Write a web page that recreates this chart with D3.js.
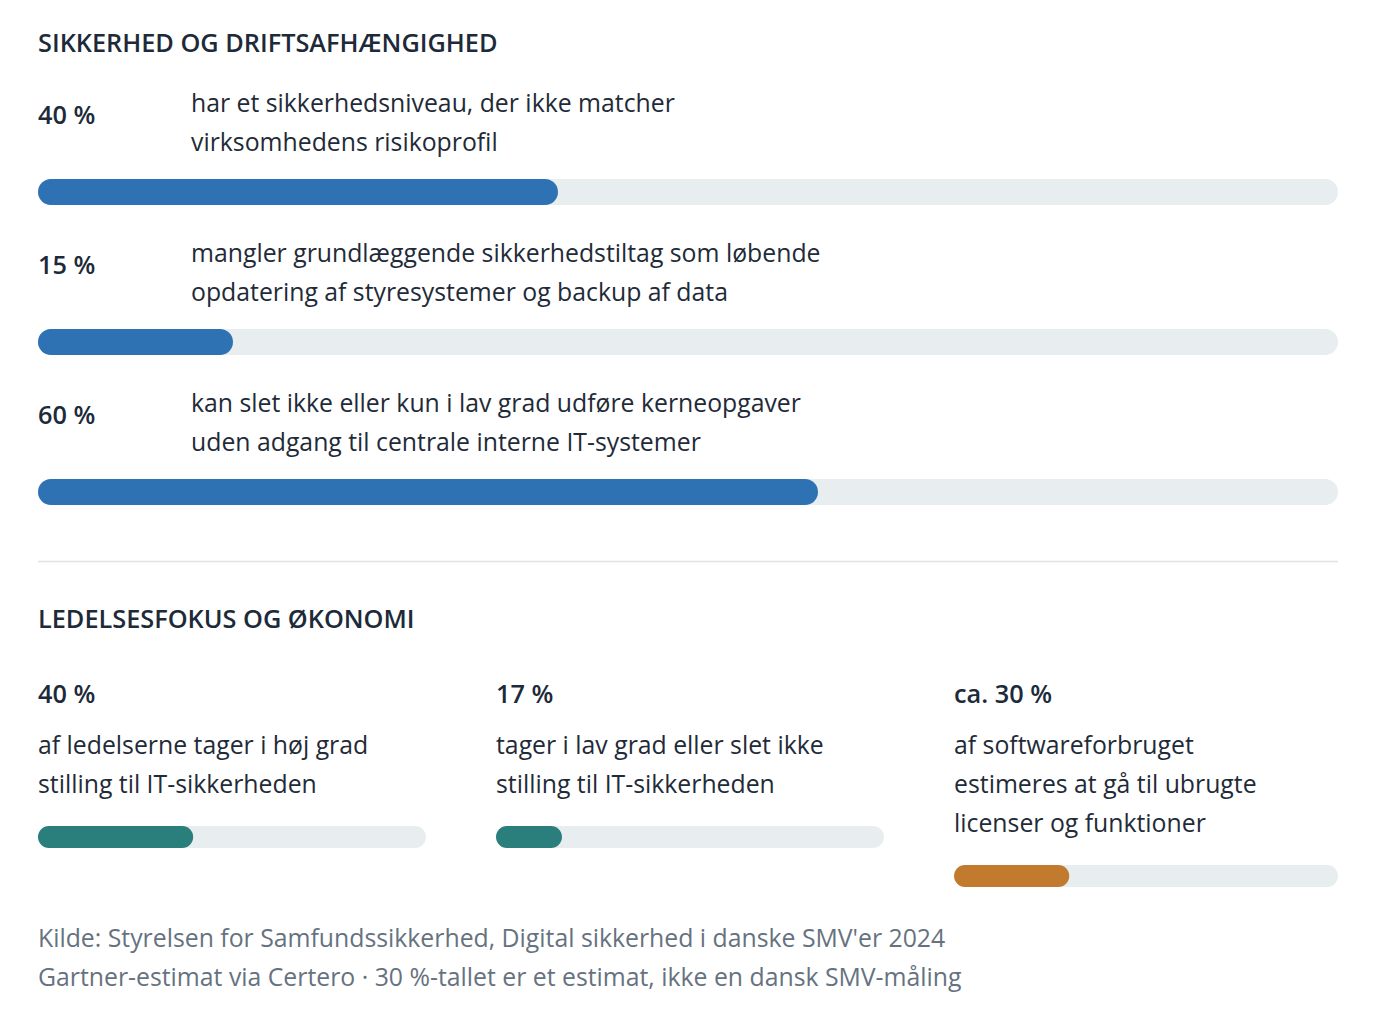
<!DOCTYPE html>
<html>
<head>
<meta charset="utf-8">
<script src="https://cdn.jsdelivr.net/npm/d3@7"></script>
<style>
  body { margin: 0; background: #fff; }
  svg { display: block; font-family: "Open Sans", "Noto Sans", sans-serif; }
  .title { font-weight: 600; fill: #1c2a39; }
  .value { font-weight: 600; fill: #1c2a39; }
  .body { fill: #1f2b38; }
  .source { fill: #667280; }
</style>
</head>
<body>
<div id="chart"></div>
<script>
var width = 1376, height = 1010;

// section titles
var sectionTitles = ["SIKKERHED OG DRIFTSAFHÆNGIGHED", "LEDELSESFOKUS OG ØKONOMI"];

// section 1: rows
var riskValues = [40, 15, 60];
var riskLabels = ["40 %", "15 %", "60 %"];
var riskTexts = [
  ["har et sikkerhedsniveau, der ikke matcher", "virksomhedens risikoprofil"],
  ["mangler grundlæggende sikkerhedstiltag som løbende", "opdatering af styresystemer og backup af data"],
  ["kan slet ikke eller kun i lav grad udføre kerneopgaver", "uden adgang til centrale interne IT-systemer"]
];

// section 2: columns
var mgmtValues = [40, 17, 30];
var mgmtLabels = ["40 %", "17 %", "ca. 30 %"];
var mgmtTexts = [
  ["af ledelserne tager i høj grad", "stilling til IT-sikkerheden"],
  ["tager i lav grad eller slet ikke", "stilling til IT-sikkerheden"],
  ["af softwareforbruget", "estimeres at gå til ubrugte", "licenser og funktioner"]
];

var sources = [
  "Kilde: Styrelsen for Samfundssikkerhed, Digital sikkerhed i danske SMV'er 2024",
  "Gartner-estimat via Certero · 30 %-tallet er et estimat, ikke en dansk SMV-måling"
];

var left = 38, right = 1338;
var bodySize = 24.8, headSize = 25.3;
var lineH = 39;
var trackColor = "#e8edf0";
var riskColor = "#2e72b4";
var mgmtColors = ["#2a7e7c", "#2a7e7c", "#c27a2e"];

var svg = d3.select("#chart").append("svg")
    .attr("width", width).attr("height", height);

// ---- section 1 ----
svg.append("text").attr("class", "title")
  .attr("x", left).attr("y", 52)
  .style("font-size", headSize + "px")
  .text(sectionTitles[0]);

var x = d3.scaleLinear().domain([0, 100]).range([0, right - left]);
var rowY = d3.scaleBand().domain(d3.range(riskValues.length)).range([80, 530]);

var row = svg.selectAll(".row")
  .data(riskValues)
  .enter().append("g")
  .attr("class", "row")
  .attr("transform", function(d, i) { return "translate(" + left + "," + rowY(i) + ")"; });

row.append("text").attr("class", "value")
  .attr("x", 0).attr("y", 44)
  .style("font-size", headSize + "px")
  .text(function(d, i) { return riskLabels[i]; });

row.append("text").attr("class", "body")
  .attr("x", 153).attr("y", 32)
  .style("font-size", bodySize + "px")
  .selectAll("tspan")
  .data(function(d, i) { return riskTexts[i]; })
  .enter().append("tspan")
  .attr("x", 153)
  .attr("dy", function(d, j) { return j ? lineH : 0; })
  .text(function(d) { return d; });

row.append("rect")
  .attr("x", 0).attr("y", 99)
  .attr("width", x(100)).attr("height", 26)
  .attr("rx", 13).attr("fill", trackColor);

row.append("rect")
  .attr("x", 0).attr("y", 99)
  .attr("width", function(d) { return x(d); }).attr("height", 26)
  .attr("rx", 13).attr("fill", riskColor);

// divider
svg.append("line")
  .attr("x1", left).attr("x2", right)
  .attr("y1", 561.5).attr("y2", 561.5)
  .attr("stroke", "#dde2e6").attr("stroke-width", 1.5);

// ---- section 2 ----
svg.append("text").attr("class", "title")
  .attr("x", left).attr("y", 628)
  .style("font-size", headSize + "px")
  .text(sectionTitles[1]);

var colX = d3.scaleBand().domain(d3.range(mgmtValues.length))
  .range([left, right + 4]).paddingInner(0.153);
var cx = d3.scaleLinear().domain([0, 100]).range([0, colX.bandwidth()]);

var col = svg.selectAll(".col")
  .data(mgmtValues)
  .enter().append("g")
  .attr("class", "col")
  .attr("transform", function(d, i) { return "translate(" + colX(i) + ",0)"; });

col.append("text").attr("class", "value")
  .attr("x", 0).attr("y", 703)
  .style("font-size", headSize + "px")
  .text(function(d, i) { return mgmtLabels[i]; });

col.append("text").attr("class", "body")
  .attr("x", 0).attr("y", 754)
  .style("font-size", bodySize + "px")
  .selectAll("tspan")
  .data(function(d, i) { return mgmtTexts[i]; })
  .enter().append("tspan")
  .attr("x", 0)
  .attr("dy", function(d, j) { return j ? lineH : 0; })
  .text(function(d) { return d; });

function barTop(i) { return 755 + (mgmtTexts[i].length - 1) * lineH + 32; }
// the last column stops at the right edge
function barWidth(i) { return Math.min(colX.bandwidth(), right - colX(i)); }

col.append("rect")
  .attr("x", 0).attr("y", function(d, i) { return barTop(i); })
  .attr("width", function(d, i) { return barWidth(i); }).attr("height", 22)
  .attr("rx", 11).attr("fill", trackColor);

col.append("rect")
  .attr("x", 0).attr("y", function(d, i) { return barTop(i); })
  .attr("width", function(d, i) { return d / 100 * barWidth(i); }).attr("height", 22)
  .attr("rx", 11).attr("fill", function(d, i) { return mgmtColors[i]; });

// sources
svg.append("text").attr("class", "source")
  .attr("x", left).attr("y", 947)
  .style("font-size", bodySize + "px")
  .selectAll("tspan")
  .data(sources)
  .enter().append("tspan")
  .attr("x", left)
  .attr("dy", function(d, j) { return j ? lineH : 0; })
  .text(function(d) { return d; });
</script>
</body>
</html>
